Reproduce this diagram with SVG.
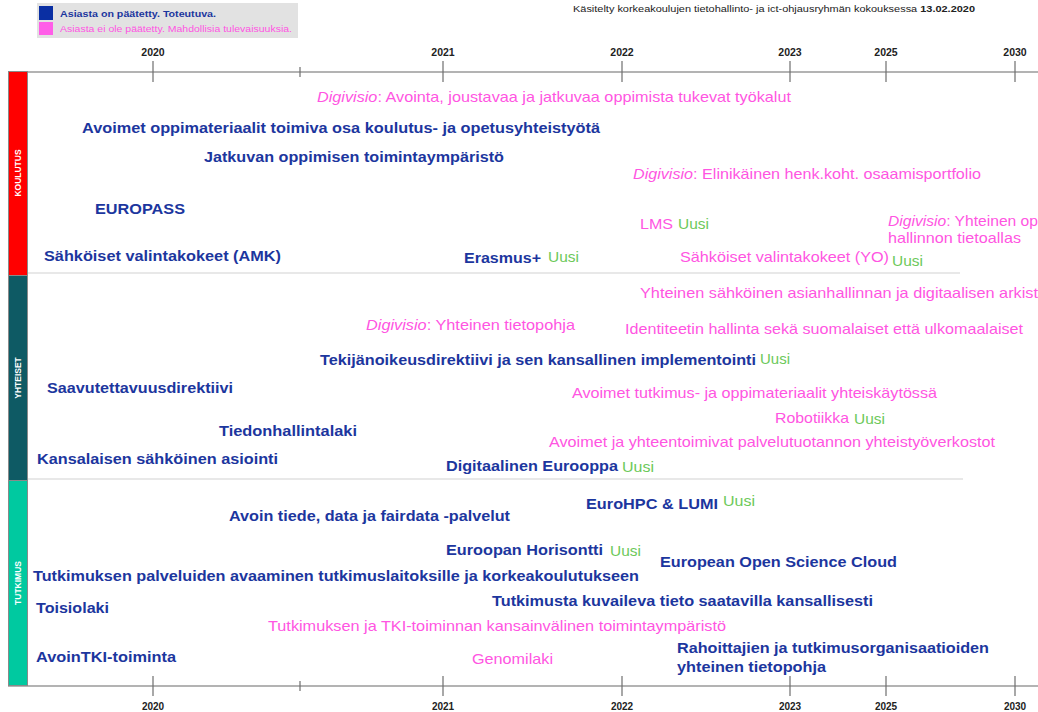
<svg xmlns="http://www.w3.org/2000/svg" width="1038" height="712" viewBox="0 0 1038 712">
<style>
text{font-family:"Liberation Sans",Arial,Helvetica,sans-serif}
.b{font-size:15px;font-weight:bold;fill:#1c369e}
.p{font-size:15px;fill:#ff55e2}
.g{font-size:15px;fill:#6cc95a}
.yr{font-size:10.5px;font-weight:bold;fill:#222;text-anchor:middle}
.yrb{font-size:10px;font-weight:bold;fill:#222;text-anchor:middle}
.axis{stroke:#9a9a9a;stroke-width:1.5;fill:none}
.tick{stroke:#6e6e6e;stroke-width:1.2}
.sep{stroke:#d2d2d2;stroke-width:1.2}
.band{stroke:#8a8a8a;stroke-width:1}
.bl{font-size:8.5px;font-weight:bold;fill:#fff;text-anchor:middle}
.hd{font-size:9px;fill:#222}
</style>
<rect width="1038" height="712" fill="#fff"/>

<g id="legend">
<rect x="37" y="3" width="261" height="35" fill="#e2e2e2"/>
<rect x="39" y="6" width="14" height="14" fill="#0a2fa3"/>
<rect x="39" y="22" width="14" height="13" fill="#ff5ee8"/>
<text x="60" y="17" style="font-size:9px;font-weight:bold;fill:#1c369e" textLength="156" lengthAdjust="spacingAndGlyphs">Asiasta on päätetty. Toteutuva.</text>
<text x="60" y="32" style="font-size:9px;fill:#ff55e2" textLength="232" lengthAdjust="spacingAndGlyphs">Asiasta ei ole päätetty. Mahdollisia tulevaisuuksia.</text>
</g>

<g id="header">
<text x="573" y="12" class="hd" textLength="402" lengthAdjust="spacingAndGlyphs">Käsitelty korkeakoulujen tietohallinto- ja ict-ohjausryhmän kokouksessa <tspan font-weight="bold">13.02.2020</tspan></text>
</g>

<g id="axes">
<line class="axis" x1="8" y1="72" x2="1038" y2="72"/>
<line class="axis" x1="8" y1="686" x2="1038" y2="686"/>
<line class="tick" x1="153" y1="61" x2="153" y2="82"/>
<line class="tick" x1="300" y1="67" x2="300" y2="77"/>
<line class="tick" x1="443" y1="61" x2="443" y2="82"/>
<line class="tick" x1="622" y1="61" x2="622" y2="82"/>
<line class="tick" x1="790" y1="61" x2="790" y2="82"/>
<line class="tick" x1="886" y1="61" x2="886" y2="82"/>
<line class="tick" x1="1015" y1="61" x2="1015" y2="82"/>
<text class="yr" x="153" y="56">2020</text>
<text class="yr" x="443" y="56">2021</text>
<text class="yr" x="622" y="56">2022</text>
<text class="yr" x="790" y="56">2023</text>
<text class="yr" x="886" y="56">2025</text>
<text class="yr" x="1015" y="56">2030</text>
<line class="tick" x1="153" y1="676" x2="153" y2="696"/>
<line class="tick" x1="300" y1="681" x2="300" y2="691"/>
<line class="tick" x1="443" y1="676" x2="443" y2="696"/>
<line class="tick" x1="622" y1="676" x2="622" y2="696"/>
<line class="tick" x1="790" y1="676" x2="790" y2="696"/>
<line class="tick" x1="886" y1="676" x2="886" y2="696"/>
<line class="tick" x1="1015" y1="676" x2="1015" y2="696"/>
<text class="yrb" x="153" y="710">2020</text>
<text class="yrb" x="443" y="710">2021</text>
<text class="yrb" x="622" y="710">2022</text>
<text class="yrb" x="790" y="710">2023</text>
<text class="yrb" x="886" y="710">2025</text>
<text class="yrb" x="1015" y="710">2030</text>
<line class="sep" x1="28" y1="273" x2="960" y2="273"/>
<line class="sep" x1="28" y1="479" x2="963" y2="479"/>
</g>

<g id="band-koulutus">
<rect class="band" x="8.5" y="71.5" width="19" height="204" fill="#ff0000"/>
<text class="bl" transform="translate(21,173) rotate(-90)">KOULUTUS</text>
</g>
<g id="band-yhteiset">
<rect class="band" x="8.5" y="275.5" width="19" height="205" fill="#0e5a64"/>
<text class="bl" transform="translate(21,378) rotate(-90)">YHTEISET</text>
</g>
<g id="band-tutkimus">
<rect class="band" x="8.5" y="480.5" width="19" height="205" fill="#00c9a0"/>
<text class="bl" transform="translate(21,583) rotate(-90)">TUTKIMUS</text>
</g>

<g id="koulutus-items">
<g id="k1"><text class="p" x="317" y="102" textLength="474" lengthAdjust="spacingAndGlyphs"><tspan font-style="italic">Digivisio</tspan>: Avointa, joustavaa ja jatkuvaa oppimista tukevat työkalut</text></g>
<g id="k2"><text class="b" x="82" y="133" textLength="518" lengthAdjust="spacingAndGlyphs">Avoimet oppimateriaalit toimiva osa koulutus- ja opetusyhteistyötä</text></g>
<g id="k3"><text class="b" x="204" y="162" textLength="300" lengthAdjust="spacingAndGlyphs">Jatkuvan oppimisen toimintaympäristö</text></g>
<g id="k4"><text class="p" x="633" y="179" textLength="348" lengthAdjust="spacingAndGlyphs"><tspan font-style="italic">Digivisio</tspan>: Elinikäinen henk.koht. osaamisportfolio</text></g>
<g id="k5"><text class="b" x="95" y="214" textLength="90" lengthAdjust="spacingAndGlyphs">EUROPASS</text></g>
<g id="k6"><text class="p" x="640" y="229" textLength="33" lengthAdjust="spacingAndGlyphs">LMS</text><text class="g" x="678" y="229" textLength="31" lengthAdjust="spacingAndGlyphs">Uusi</text></g>
<g id="k7"><text class="p" x="888" y="226" textLength="150" lengthAdjust="spacingAndGlyphs"><tspan font-style="italic">Digivisio</tspan>: Yhteinen op</text><text class="p" x="888" y="243" textLength="133" lengthAdjust="spacingAndGlyphs">hallinnon tietoallas</text></g>
<g id="k8"><text class="b" x="44" y="261" textLength="237" lengthAdjust="spacingAndGlyphs">Sähköiset valintakokeet (AMK)</text></g>
<g id="k9"><text class="b" x="464" y="263" textLength="77" lengthAdjust="spacingAndGlyphs">Erasmus+</text><text class="g" x="548" y="262" textLength="31" lengthAdjust="spacingAndGlyphs">Uusi</text></g>
<g id="k10"><text class="p" x="680" y="262" textLength="209" lengthAdjust="spacingAndGlyphs">Sähköiset valintakokeet (YO)</text><text class="g" x="892" y="266" textLength="31" lengthAdjust="spacingAndGlyphs">Uusi</text></g>
</g>

<g id="yhteiset-items">
<g id="y1"><text class="p" x="640" y="298" textLength="398" lengthAdjust="spacingAndGlyphs">Yhteinen sähköinen asianhallinnan ja digitaalisen arkist</text></g>
<g id="y2"><text class="p" x="366" y="330" textLength="209" lengthAdjust="spacingAndGlyphs"><tspan font-style="italic">Digivisio</tspan>: Yhteinen tietopohja</text></g>
<g id="y3"><text class="p" x="625" y="334" textLength="398" lengthAdjust="spacingAndGlyphs">Identiteetin hallinta sekä suomalaiset että ulkomaalaiset</text></g>
<g id="y4"><text class="b" x="320" y="365" textLength="436" lengthAdjust="spacingAndGlyphs">Tekijänoikeusdirektiivi ja sen kansallinen implementointi</text><text class="g" x="760" y="364" textLength="30" lengthAdjust="spacingAndGlyphs">Uusi</text></g>
<g id="y5"><text class="b" x="47" y="393" textLength="186" lengthAdjust="spacingAndGlyphs">Saavutettavuusdirektiivi</text></g>
<g id="y6"><text class="p" x="572" y="398" textLength="365" lengthAdjust="spacingAndGlyphs">Avoimet tutkimus- ja oppimateriaalit yhteiskäytössä</text></g>
<g id="y7"><text class="p" x="775" y="423" textLength="74" lengthAdjust="spacingAndGlyphs">Robotiikka</text><text class="g" x="854" y="424" textLength="31" lengthAdjust="spacingAndGlyphs">Uusi</text></g>
<g id="y8"><text class="b" x="219" y="436" textLength="138" lengthAdjust="spacingAndGlyphs">Tiedonhallintalaki</text></g>
<g id="y9"><text class="p" x="549" y="447" textLength="446" lengthAdjust="spacingAndGlyphs">Avoimet ja yhteentoimivat palvelutuotannon yhteistyöverkostot</text></g>
<g id="y10"><text class="b" x="37" y="464" textLength="241" lengthAdjust="spacingAndGlyphs">Kansalaisen sähköinen asiointi</text></g>
<g id="y11"><text class="b" x="446" y="471" textLength="172" lengthAdjust="spacingAndGlyphs">Digitaalinen Eurooppa</text><text class="g" x="622" y="472" textLength="32" lengthAdjust="spacingAndGlyphs">Uusi</text></g>
</g>

<g id="tutkimus-items">
<g id="t1"><text class="b" x="586" y="509" textLength="132" lengthAdjust="spacingAndGlyphs">EuroHPC &amp; LUMI</text><text class="g" x="723" y="506" textLength="32" lengthAdjust="spacingAndGlyphs">Uusi</text></g>
<g id="t2"><text class="b" x="229" y="521" textLength="281" lengthAdjust="spacingAndGlyphs">Avoin tiede, data ja fairdata -palvelut</text></g>
<g id="t3"><text class="b" x="446" y="555" textLength="157" lengthAdjust="spacingAndGlyphs">Euroopan Horisontti</text><text class="g" x="610" y="556" textLength="31" lengthAdjust="spacingAndGlyphs">Uusi</text></g>
<g id="t4"><text class="b" x="660" y="567" textLength="237" lengthAdjust="spacingAndGlyphs">European Open Science Cloud</text></g>
<g id="t5"><text class="b" x="33" y="581" textLength="606" lengthAdjust="spacingAndGlyphs">Tutkimuksen palveluiden avaaminen tutkimuslaitoksille ja korkeakoulutukseen</text></g>
<g id="t6"><text class="b" x="36" y="613" textLength="73" lengthAdjust="spacingAndGlyphs">Toisiolaki</text></g>
<g id="t7"><text class="b" x="492" y="606" textLength="381" lengthAdjust="spacingAndGlyphs">Tutkimusta kuvaileva tieto saatavilla kansallisesti</text></g>
<g id="t8"><text class="p" x="268" y="631" textLength="458" lengthAdjust="spacingAndGlyphs">Tutkimuksen ja TKI-toiminnan kansainvälinen toimintaympäristö</text></g>
<g id="t9"><text class="b" x="677" y="653" textLength="312" lengthAdjust="spacingAndGlyphs">Rahoittajien ja tutkimusorganisaatioiden</text><text class="b" x="677" y="672" textLength="149" lengthAdjust="spacingAndGlyphs">yhteinen tietopohja</text></g>
<g id="t10"><text class="b" x="36" y="662" textLength="140" lengthAdjust="spacingAndGlyphs">AvoinTKI-toiminta</text></g>
<g id="t11"><text class="p" x="472" y="664" textLength="81" lengthAdjust="spacingAndGlyphs">Genomilaki</text></g>
</g>
</svg>
